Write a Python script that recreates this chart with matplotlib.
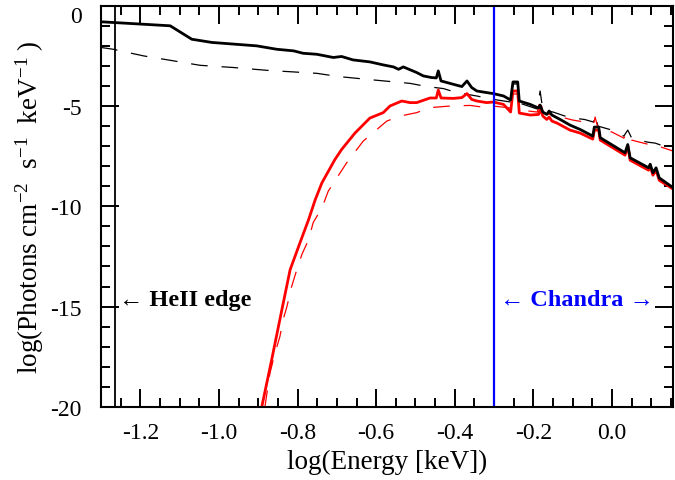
import numpy as np
import matplotlib
matplotlib.use("Agg")
from matplotlib import pyplot as plt

plt.rcParams['font.family'] = ['Liberation Serif', 'DejaVu Serif']
plt.rcParams['mathtext.fontset'] = 'custom'
plt.rcParams['mathtext.rm'] = 'Liberation Serif'
plt.rcParams['mathtext.it'] = 'Liberation Serif:italic'
plt.rcParams['axes.unicode_minus'] = False
plt.rcParams['lines.scale_dashes'] = False

# total unabsorbed spectrum (black, solid)
tot_x = [-1.300, -1.124, -1.069, -1.018, -0.904, -0.853, -0.810, -0.786, -0.751, -0.709,
         -0.688, -0.659, -0.616, -0.582, -0.556, -0.543, -0.531, -0.497, -0.480, -0.459,
         -0.447, -0.442, -0.435, -0.403, -0.382, -0.369, -0.357, -0.344, -0.319, -0.302,
         -0.276, -0.258, -0.252, -0.240, -0.236, -0.208, -0.187, -0.183, -0.176, -0.166,
         -0.160, -0.153, -0.132, -0.107, -0.081, -0.049, -0.045, -0.034, -0.030, 0.012,
         0.033, 0.040, 0.046, 0.093, 0.097, 0.104, 0.112, 0.120, 0.156]
tot_y = [-0.80, -1.00, -1.67, -1.83, -2.00, -2.17, -2.25, -2.37, -2.42, -2.58,
         -2.53, -2.70, -2.80, -2.95, -3.05, -3.17, -3.05, -3.33, -3.50, -3.58,
         -3.60, -3.25, -3.75, -3.92, -4.03, -3.75, -4.08, -4.25, -4.33, -4.38,
         -4.50, -4.70, -3.80, -3.80, -4.75, -4.92, -5.10, -4.95, -5.30, -5.42,
         -5.25, -5.45, -5.67, -5.95, -6.17, -6.50, -6.05, -6.05, -6.58, -7.08,
         -7.33, -6.92, -7.58, -8.08, -7.90, -8.33, -8.08, -8.58, -9.08]

# absorbed spectrum (red, solid)
abs_x = [-0.891, -0.866, -0.840, -0.819, -0.794, -0.772, -0.755, -0.738, -0.705, -0.688,
         -0.654, -0.616, -0.582, -0.565, -0.535, -0.514, -0.497, -0.463, -0.447, -0.442,
         -0.435, -0.404, -0.382, -0.369, -0.357, -0.344, -0.319, -0.302, -0.276, -0.258,
         -0.252, -0.240, -0.236, -0.208, -0.187, -0.183, -0.176, -0.166, -0.160, -0.153,
         -0.140, -0.107, -0.081, -0.049, -0.045, -0.034, -0.030, 0.012, 0.033, 0.040,
         0.046, 0.093, 0.097, 0.104, 0.112, 0.120, 0.156]
abs_y = [-20.0, -17.67, -15.17, -13.17, -11.83, -10.67, -9.67, -8.83, -7.67, -7.17,
         -6.35, -5.60, -5.33, -5.00, -4.75, -4.83, -4.83, -4.60, -4.60, -4.20,
         -4.60, -4.62, -4.58, -4.38, -4.67, -4.75, -4.83, -4.80, -4.92, -5.30,
         -4.25, -4.25, -5.35, -5.45, -5.42, -5.15, -5.50, -5.67, -5.55, -5.75,
         -5.85, -6.20, -6.35, -6.65, -6.20, -6.20, -6.70, -7.20, -7.45, -7.00,
         -7.70, -8.20, -8.00, -8.45, -8.20, -8.70, -9.15]

# model components (dashed)
tot2_x = [-1.300, -1.269, -1.192, -1.124, -1.048, -0.963, -0.878, -0.751, -0.696, -0.607,
          -0.514, -0.471, -0.429, -0.395, -0.344, -0.302, -0.258, -0.252, -0.240, -0.236,
          -0.190, -0.183, -0.176, -0.150, -0.120, -0.100, -0.070, -0.047, -0.043, -0.036,
          0.000, 0.030, 0.040, 0.050, 0.090, 0.110, 0.156]
tot2_y = [-2.08, -2.17, -2.50, -2.72, -2.97, -3.08, -3.22, -3.37, -3.53, -3.70,
          -3.87, -4.03, -4.13, -4.33, -4.50, -4.67, -4.80, -3.90, -3.90, -4.85,
          -5.15, -4.25, -5.20, -5.30, -5.50, -5.60, -5.67, -5.80, -5.42, -6.00,
          -6.20, -6.50, -6.20, -6.60, -6.80, -6.85, -7.17]

abs2_x = [-0.883, -0.870, -0.857, -0.845, -0.836, -0.827, -0.815, -0.802, -0.789, -0.772,
          -0.760, -0.738, -0.722, -0.700, -0.675, -0.633, -0.573, -0.539, -0.497, -0.463,
          -0.412, -0.361, -0.319, -0.302, -0.258, -0.252, -0.240, -0.236, -0.190, -0.183,
          -0.176, -0.150, -0.120, -0.100, -0.070, -0.047, -0.043, -0.036, 0.000, 0.030,
          0.040, 0.050, 0.090, 0.110, 0.156]
abs2_y = [-20.0, -18.3, -17.3, -16.5, -15.6, -15.0, -14.0, -13.17, -12.4, -11.67,
          -10.8, -10.08, -9.25, -8.58, -7.83, -6.75, -5.75, -5.50, -5.33, -5.08,
          -5.00, -4.97, -5.08, -5.00, -5.10, -4.40, -4.40, -5.20, -5.30, -4.60,
          -5.35, -5.45, -5.60, -5.70, -5.80, -5.90, -5.55, -6.10, -6.30, -6.60,
          -6.30, -6.70, -6.90, -6.95, -7.25]

heii_edge = -1.264
chandra_min = -0.3

fig = plt.figure(figsize=(6.75, 4.81), dpi=100)
ax = fig.add_axes([0.1496, 0.152, 0.8474, 0.834])

dash = (0, (12, 10))
ax.plot(tot2_x, tot2_y, color='black', lw=0.9, linestyle=dash)
ax.plot(abs2_x, abs2_y, color='red', lw=0.9, linestyle=dash)
ax.plot(abs_x, abs_y, color='red', lw=2.0)
ax.plot(tot_x, tot_y, color='black', lw=2.0)

ax.axvline(heii_edge, color='black', lw=1.3)
ax.axvline(chandra_min, color='blue', lw=1.6)

ax.text(-1.254, -14.67, '\u2190 HeII edge', fontsize=17.5, fontweight='bold',
        va='center', ha='left')
ax.text(-0.285, -14.67, '\u2190 Chandra \u2192', fontsize=17.5, fontweight='bold',
        color='blue', va='center', ha='left')

ax.set_xlim(-1.3, 0.155)
ax.set_ylim(-20, 0)
ax.set_xticks(np.arange(-1.2, 0.01, 0.2))
ax.set_xticklabels(['-1.2', '-1.0', '-0.8', '-0.6', '-0.4', '-0.2', '0.0'])
ax.set_xticks(np.arange(-1.3, 0.16, 0.05), minor=True)
ax.set_yticks([-20, -15, -10, -5, 0])
ax.set_yticks(np.arange(-20, 0.1, 1), minor=True)

ax.tick_params(which='both', direction='in', top=True, right=True, width=1.4,
               labelsize=17)
ax.tick_params(which='major', length=13)
ax.tick_params(which='minor', length=6.5)
ax.tick_params(axis='x', pad=11)
ax.tick_params(axis='y', pad=14)
for sp in ax.spines.values():
    sp.set_linewidth(1.5)

# top label sits inside the figure
ax.get_yticklabels()[-1].set_verticalalignment('top')

ax.set_xlabel('log(Energy [keV])', fontsize=19.5, labelpad=4)
ax.set_ylabel('log(Photons cm$^{-2}$  s$^{-1}$  keV$^{-1}$ )', fontsize=19.5, labelpad=3)

fig.savefig('out.png', dpi=100)
